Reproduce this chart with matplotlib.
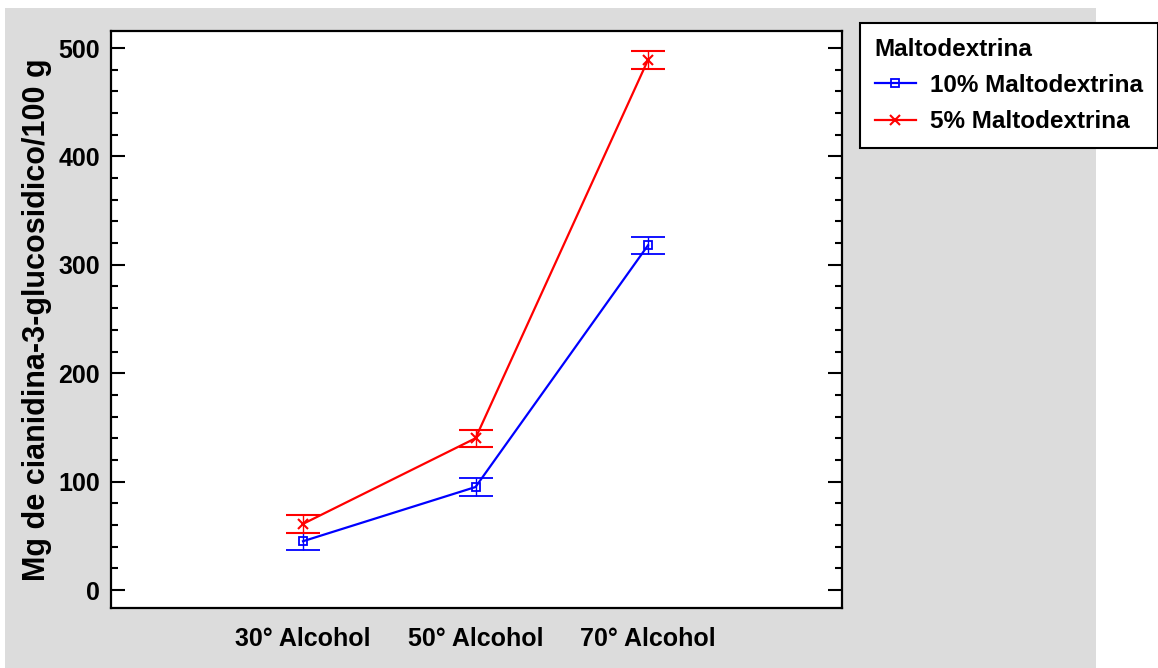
import numpy as np
import matplotlib.pyplot as plt
from matplotlib.patches import Rectangle
from matplotlib.lines import Line2D
from matplotlib.ticker import MultipleLocator

# data
categorias = ["30° Alcohol", "50° Alcohol", "70° Alcohol"]
malto_10 = [45, 95, 318]
malto_5 = [61, 140, 489]
err_10 = [8, 8, 8]
err_5 = [8, 8, 8]

plt.rcParams['font.family'] = ['Liberation Sans', 'DejaVu Sans']
plt.rcParams['font.weight'] = 'bold'

W, H = 1158, 668
fig = plt.figure(figsize=(W / 100, H / 100), dpi=100)
fig.patch.set_facecolor('white')

# gray panel behind the plot
fig.patches.append(Rectangle((5 / W, 0), (1096 - 5) / W, (668 - 8) / H,
                             transform=fig.transFigure, facecolor='#dcdcdc',
                             edgecolor='none', zorder=-5))

ax = fig.add_axes([111 / W, 1 - 608 / H, (842 - 111) / W, (608 - 31) / H])
ax.set_zorder(2)
ax.set_facecolor('white')

x = np.arange(1, len(categorias) + 1)

ax.errorbar(x, malto_10, yerr=err_10, color='blue', lw=1.6,
            marker='s', ms=6, mfc='none', mew=1.3,
            capsize=12.5, capthick=1.6, elinewidth=1.0)
ax.errorbar(x, malto_5, yerr=err_5, color='red', lw=1.6,
            marker='x', ms=7, mew=1.5,
            capsize=12.5, capthick=1.6, elinewidth=1.0)

ax.set_xlim(1 - 192 / 172.5, 3 + 194 / 172.5)
ax.set_ylim(-16.6, 515.7)
ax.set_xticks(x)
ax.set_xticklabels(categorias, fontsize=18, fontweight='bold')
ax.tick_params(axis='x', length=0, pad=14)

ax.yaxis.set_major_locator(MultipleLocator(100))
ax.yaxis.set_minor_locator(MultipleLocator(20))
ax.tick_params(axis='y', which='both', direction='in', right=True,
               width=1.5, labelsize=18, pad=8)
ax.tick_params(axis='y', which='major', length=10)
ax.tick_params(axis='y', which='minor', length=5)
for lab in ax.get_yticklabels():
    lab.set_fontweight('bold')

for s in ax.spines.values():
    s.set_linewidth(1.6)

ax.set_ylabel('Mg de cianidina-3-glucosidico/100 g', fontsize=22,
              fontweight='bold')
ax.yaxis.set_label_coords((52 - 111) / 731, 0.5)

h1 = Line2D([], [], color='blue', lw=1.6, marker='s', ms=6, mfc='none', mew=1.3)
h2 = Line2D([], [], color='red', lw=1.6, marker='x', ms=7, mew=1.5)
leg = fig.legend(handles=[h1, h2], labels=['10% Maltodextrina', '5% Maltodextrina'],
                 title='Maltodextrina',
                 loc='upper left', bbox_to_anchor=(860 / W, 1 - 23 / H),
                 borderaxespad=0,
                 fontsize=17.5, title_fontproperties={'weight': 'bold', 'size': 17.5},
                 frameon=True, fancybox=False, edgecolor='black', framealpha=1,
                 handlelength=1.7, handletextpad=0.6, borderpad=0.6,
                 labelspacing=0.55, alignment='left')
leg.get_frame().set_linewidth(1.5)
leg.set_zorder(3)

fig.savefig('out.png', dpi=100)
